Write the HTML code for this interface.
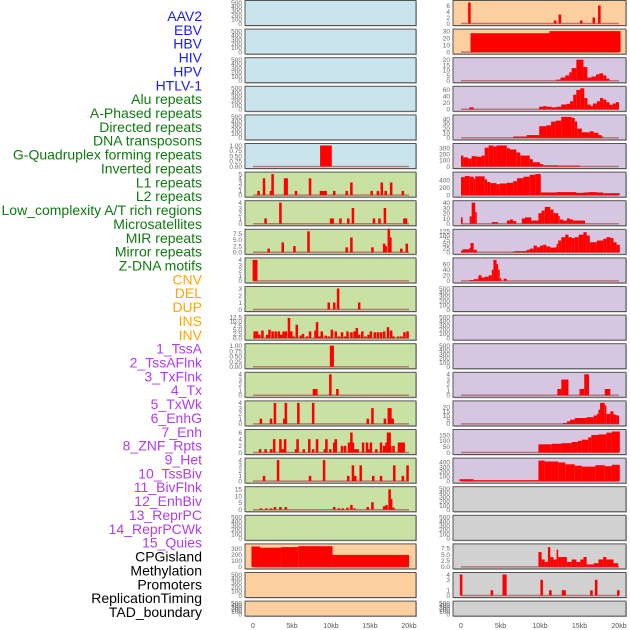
<!DOCTYPE html>
<html><head><meta charset="utf-8"><style>
body{margin:0;background:#fff;width:630px;height:630px;overflow:hidden}
svg{display:block;font-family:"Liberation Sans",sans-serif}
</style></head><body>
<svg id="chart" width="630" height="630"></svg>
<script>
// ---- data ----
const labelNames = ["AAV2","EBV","HBV","HIV","HPV","HTLV-1","Alu repeats","A-Phased repeats","Directed repeats","DNA transposons","G-Quadruplex forming repeats","Inverted repeats","L1 repeats","L2 repeats","Low_complexity A/T rich regions","Microsatellites","MIR repeats","Mirror repeats","Z-DNA motifs","CNV","DEL","DUP","INS","INV","1_TssA","2_TssAFlnk","3_TxFlnk","4_Tx","5_TxWk","6_EnhG","7_Enh","8_ZNF_Rpts","9_Het","10_TssBiv","11_BivFlnk","12_EnhBiv","13_ReprPC","14_ReprPCWk","15_Quies","CPGisland","Methylation","Promoters","ReplicationTiming","TAD_boundary"];
const labelGroups = [0,0,0,0,0,0,1,1,1,1,1,1,1,1,1,1,1,1,1,2,2,2,2,2,3,3,3,3,3,3,3,3,3,3,3,3,3,3,3,4,4,4,4,4];
const groupColors = ["#1a1aff","#0f7a0f","#ffa500","#b03cf0","#000"];
const xTickValues = [0,5,10,15,20];
const xTickLabels = ["0","5kb","10kb","15kb","20kb"];

const T500=[0,100,200,300,400,500], T4=[0,1,2,3,4];
const leftTicks=[T500,T500,T500,T500,T500,[0,0.25,0.5,0.75,1],[0,1,2,3,4,5],T4,[0,2.5,5,7.5],T4,[0,1,2,3],[0,2.5,5,7.5,10,12.5],[0,0.25,0.5,0.75,1],T4,T4,[0,2,4,6],T4,[0,5,10,15],T500,[0,100,200,300],T500,T500];
const leftTickText=[null,null,null,null,null,["0.00","0.25","0.50","0.75","1.00"],null,null,["0.0","2.5","5.0","7.5"],null,null,["0.0","2.5","5.0","7.5","10.0","12.5"],["0.00","0.25","0.50","0.75","1.00"]];
const leftMax=[500,500,500,500,500,1,5,4,8.5,4,3,12.5,1,4,4,6.3,4,15.5,500,350,500,500];
const leftColor=["b","b","b","b","b","b","g","g","g","g","g","g","g","g","g","g","g","g","g","o","o","o"];
// spikes: [kb, value]
const leftSpikes={
 6:[[0.7,1],[1.4,4],[2.3,1],[2.5,5],[4.1,4],[4.3,4],[5.5,1],[7.3,4],[8.7,1],[9.0,1],[9.3,1],[10.4,1],[12,1],[12.6,3],[15.2,1],[16,1],[16.5,3],[17,1],[17.7,3],[19.2,1]],
 7:[[1.6,1],[3.5,4],[10,1],[10.2,1],[11.2,1],[12.2,1],[12.8,3],[15.5,1],[16.2,1],[16.9,3],[19.4,1],[19.6,1]],
 8:[[2,1.5],[3.8,4],[5.3,2.5],[7.1,8.5],[12,2],[12.6,6],[15.3,2],[16.8,3.5],[17,2.5],[17.4,9.5],[17.6,6],[19,1.5],[19.7,3.5]],
 9:[[0.1,4],[0.4,4]],
 10:[[9.7,1],[10.4,1],[10.9,3],[13.6,1]],
 11:[[0.2,4],[0.5,4],[0.8,2],[1.2,4.5],[1.8,2],[2.1,5],[2.5,4],[2.9,4],[3.3,4],[3.6,2],[3.9,4],[4.2,4],[4.6,12],[4.9,4],[5.2,1],[5.6,8],[6.1,1.5],[6.4,2.5],[6.9,1],[7.3,4],[8.0,4.5],[8.2,9.5],[8.5,1],[8.8,4],[9.3,1.5],[9.7,1],[10.1,5],[10.6,4],[11.0,1],[11.4,3.5],[11.8,1],[12.1,4],[12.6,3.5],[13,4],[13.3,6],[13.6,2],[14,4],[14.4,1],[14.8,2],[15.1,4],[15.6,3.5],[16,3.5],[16.4,3.5],[16.8,4],[17.3,6.5],[17.7,4.5],[18,1],[18.6,1],[19,1],[19.4,3.5],[19.8,4]],
 12:[[10,1],[10.2,1]],
 13:[[7.8,1.2],[8.1,1.2],[9.9,4],[10.8,1.2]],
 14:[[1,1],[2.3,1],[2.8,4],[4,1],[4.2,4],[5.8,4],[7.7,4],[14.7,1],[15.3,3],[16.9,1],[17.4,3],[17.6,3],[17.9,1]],
 15:[[0.9,1],[1.6,1],[2.3,1],[2.7,4],[3.5,4],[3.8,1],[4.1,4],[5.5,1],[5.7,4],[6.5,1],[7.2,4],[7.7,1],[8.2,4],[9.2,1],[9.4,4],[9.9,1],[10.4,3],[10.6,4],[11.4,2],[11.8,2],[12.3,3],[12.6,6],[12.8,3],[13.1,1],[13.4,1],[14.1,3],[14.6,3],[14.8,1],[15.1,3],[15.8,1],[16.4,3],[16.8,2],[17.1,3],[17.3,6],[17.5,6],[17.6,2],[18,2],[18.7,3],[19,3],[19.3,3]],
 16:[[1.4,1],[3.2,4],[7.3,1],[9.1,4],[12.2,1],[12.8,3],[13.1,1],[13.8,3],[15.4,1],[16.4,1],[18.1,3],[19.2,1],[19.8,3]],
 17:[[1,1],[1.7,1],[2.3,1],[2.8,2],[3.5,2],[4.2,2],[10.4,2],[11,1],[11.5,1],[12.1,1.5],[12.6,3.5],[13,1],[14.7,2],[15.3,5.5],[16.8,2.5],[17.1,3.5],[17.5,15],[17.7,8],[18,1.5]]
};
// steps: [startKb, endKb, value]
const leftSteps={
 5:[[8.6,10.1,1]],
 19:[[-0.2,0.9,340],[0.9,3.6,320],[3.6,5.8,330],[5.8,10.2,345],[10.2,20,200]]
};

const rightTicks=[[0,2,4,6],[0,10,20,30],[0,5,10,15,20],[0,20,40,60],[0,10,20,30,40],[0,100,200,300],[0,200,400],[0,10,20,30,40],[0,25,50,75,100,125],[0,20,40,60],T500,T500,T500,T4,[0,5,10,15,20],[0,50,100,150],[0,100,200,300,400],T500,T500,[0,2.5,5,7.5],[0,1,3,4],T500];
const rightTickText={19:["0.0","2.5","5.0","7.5"]};
const rightMax=[7,30,20,65,45,345,560,40,125,75,500,500,500,4,25,180,450,500,500,8.5,4,500];
const rightColor=["o","o","p","p","p","p","p","p","p","p","p","p","p","p","p","p","p","g2","g2","g2","g2","g2"];
const rightSpikes={
 0:[[1.05,7],[11.9,1],[12.5,3],[15.2,1],[16.8,2],[17.5,6]],
 20:[[0,4],[3.9,1],[5.4,4],[5.6,4],[10.2,3],[11.3,1],[12.9,1],[13.1,1],[16.5,1],[17.1,3],[19.9,1]]
};
const rightSteps={
 1:[[1.2,11.2,27],[11.2,20.2,30]],
 2:[[12,12.6,1],[12.6,13.2,3],[13.2,13.7,5],[13.7,14,8],[14,14.6,12],[14.6,15.5,20],[15.5,16,13],[16,16.5,3],[16.5,17.1,4],[17.1,17.5,6],[17.5,18,7],[18,18.4,5],[18.4,18.8,2]],
 3:[[1.06,1.6,6],[9.9,10.4,8],[10.4,10.8,10],[10.8,11.5,8],[11.5,12.1,6],[12.1,12.7,8],[12.7,13.4,15],[13.4,13.8,17],[13.8,14.2,25],[14.2,14.6,45],[14.6,15.1,60],[15.1,15.6,65],[15.6,16,35],[16,16.4,15],[16.4,16.7,10],[16.7,17.2,18],[17.2,17.6,25],[17.6,18,35],[18,18.4,30],[18.4,18.8,22],[18.8,19.2,14],[19.2,19.6,18],[19.6,20,22]],
 4:[[6.6,8.3,3],[8.3,9.9,6],[9.9,10.8,25],[10.8,11.4,27],[11.4,12,35],[12,12.7,37],[12.7,14,45],[14,14.4,43],[14.4,14.7,35],[14.7,15.3,20],[15.3,16.3,12],[16.3,16.8,14],[16.8,17.4,11],[17.4,17.8,6],[17.8,18,3]],
 5:[[0,0.3,180],[0.3,0.9,150],[0.9,1.35,130],[1.35,2,170],[2,2.6,160],[2.6,3,180],[3,3.5,310],[3.5,4.1,345],[4.1,4.5,330],[4.5,5.8,345],[5.8,6.2,300],[6.2,7,280],[7,7.5,230],[7.5,8.7,180],[8.7,9.1,120],[9.1,10,70],[10,10.4,40],[10.4,12.3,20],[12.3,15.1,15]],
 6:[[0,0.5,480],[0.5,1.1,510],[1.1,1.6,490],[1.6,1.8,440],[1.8,3,500],[3,3.3,420],[3.3,3.7,350],[3.7,4.5,320],[4.5,4.9,290],[4.9,5.8,310],[5.8,6.6,330],[6.6,7.1,370],[7.1,7.9,450],[7.9,8.7,490],[8.7,9.4,540],[9.4,10.1,560],[10.1,12.1,70],[12.1,14.6,80],[14.6,15.5,60],[15.5,16.1,70],[16.1,17.2,80],[17.2,18,70],[18,20.1,50]],
 7:[[0,0.2,12],[1.1,1.35,14],[1.35,1.8,40],[1.8,2,22],[3.9,4.7,3],[5.8,6.2,6],[6.2,6.6,8],[6.6,7,5],[7.7,8.1,10],[8.1,8.9,12],[8.9,9.8,6],[9.8,10.2,20],[10.2,10.6,25],[10.6,11.3,32],[11.3,11.7,27],[11.7,12.3,20],[12.3,12.5,15],[12.5,12.95,8],[12.95,13.4,6],[13.4,13.8,10],[13.8,14.2,8],[14.2,15.7,6]],
 8:[[0,0.2,10],[0.2,1.05,18],[1.05,1.2,25],[1.2,1.6,55],[1.6,2,15],[6.4,6.8,3],[6.8,8.3,7],[8.3,8.7,15],[8.7,9.2,22],[9.2,9.6,40],[9.6,10,30],[10,10.4,40],[10.4,10.8,45],[10.8,11.3,35],[11.3,11.9,28],[11.9,12.1,30],[12.1,12.3,50],[12.3,12.7,70],[12.7,13.2,90],[13.2,13.6,105],[13.6,14,90],[14,14.4,85],[14.4,14.9,90],[14.9,15.5,105],[15.5,15.9,120],[15.9,16.3,100],[16.3,17.2,60],[17.2,18,70],[18,18.4,80],[18.4,18.9,90],[18.9,19.3,85],[19.3,19.7,60],[19.7,20.1,45]],
 9:[[1.1,1.6,3],[1.6,2.2,6],[2.2,2.6,20],[2.6,3,12],[3,3.5,15],[3.5,3.9,20],[3.9,4.1,40],[4.1,4.5,75],[4.5,4.7,60],[4.7,4.9,40],[4.9,5.1,10],[5.4,5.8,8]],
 13:[[12.2,12.7,1.2],[12.7,13.6,3],[15,15.6,1.2],[15.6,16.2,4],[18.2,18.9,1.2]],
 14:[[12.9,13.4,1],[13.4,13.8,3],[13.8,14.4,5],[14.4,15.9,7],[15.9,16.8,8],[16.8,17.2,10],[17.2,17.4,12],[17.4,17.6,17],[17.6,18.2,25],[18.2,18.4,22],[18.4,18.9,12],[18.9,19.3,15],[19.3,19.7,11],[19.7,20,10]],
 15:[[9.8,11.5,70],[11.5,12.7,75],[12.7,14,80],[14,14.8,90],[14.8,15.3,100],[15.3,16.1,110],[16.1,16.5,130],[16.5,17.4,150],[17.4,18.4,155],[18.4,19.1,170],[19.1,20.1,180]],
 16:[[-0.2,1.6,40],[1.6,9.8,20],[9.8,10.6,440],[10.6,12.3,420],[12.3,13.2,400],[13.2,14.4,360],[14.4,15.3,330],[15.3,17,310],[17,18.2,340],[18.2,19.1,320],[19.1,20.1,350]],
 19:[[9.8,10.2,6],[10.2,10.6,3],[10.6,11,2],[11,11.3,8],[11.3,11.7,4],[11.7,12.1,3],[12.1,12.3,7],[12.3,12.7,4],[12.7,13.4,4],[13.4,14,2],[14,14.6,3],[14.6,15.1,2],[15.1,15.5,3],[15.5,15.9,4],[15.9,16.3,1],[16.3,16.8,1],[16.8,17.4,1.5],[17.4,18,3],[18,18.4,4],[18.4,19.3,3],[19.3,19.9,1.5]]
};

// ---- drawing ----
const NS="http://www.w3.org/2000/svg";
const svg=document.getElementById("chart");
const fills={b:"#c9e4ec",g:"#c9e2a4",o:"#fdcf9f",p:"#d7c6e2",g2:"#d1d1d1"};
function mk(tag,attrs,parent){const e=document.createElementNS(NS,tag);for(const k in attrs)e.setAttribute(k,attrs[k]);(parent||svg).appendChild(e);return e;}

labelNames.forEach((name,i)=>{
  const t=mk("text",{x:202,y:21+i*13.86,"text-anchor":"end","font-size":"14",fill:groupColors[labelGroups[i]]});
  t.textContent=name;
  
  
});

function rowTop(i){return 0.5+i*28.6;}
function rowH(i){return i===21?15:25;}

function drawColumn(side,ticks,tickText,maxes,colors,spikes,steps,px0,px1,x0,x20,tickX){
  const g=mk("g",{});
  
  
  const xs=kb=>x0+kb*(x20-x0)/20;
  for(let i=0;i<22;i++){
    const top=rowTop(i),h=rowH(i),bot=top+h;
    const pg=mk("g",{},g);
    
    
    mk("rect",{x:px0+1,y:top+1,width:px1-px0,height:h,fill:"#bbb"},pg);
    mk("rect",{x:px0,y:top,width:px1-px0,height:h,fill:fills[colors[i]],stroke:"#555","stroke-width":1},pg);
    const max=maxes[i];
    const ys=v=>bot-2-v/max*(h-4);
    // ticks
    const tv=ticks[i],tt=(tickText&&tickText[i])||null;
    tv.forEach((v,k)=>{
      const t=mk("text",{x:tickX,y:ys(v)+2.3,"text-anchor":"end","font-size":"6.5",fill:"#666"},pg);
      t.textContent=tt?tt[k]:String(v);
      
      
    });
    const empty=!(spikes[i]||steps[i]);
    if(!empty){
      mk("line",{x1:xs(0),x2:xs(20),y1:ys(0),y2:ys(0),stroke:"#b06060","stroke-width":1.5,opacity:0.8},pg);
    }
    (steps[i]||[]).forEach(s=>{
      const r=mk("rect",{x:xs(s[0]),y:ys(s[2]),width:Math.max(0.8,xs(s[1])-xs(s[0])),height:ys(0)-ys(s[2]),fill:"#ff0000"},pg);
      
      
    });
    (spikes[i]||[]).forEach(s=>{
      const w=0.3;
      const r=mk("rect",{x:xs(s[0]-w/2),y:ys(s[1]),width:xs(w)-xs(0)+0.2,height:ys(0)-ys(s[1]),fill:"#ff0000"},pg);
      
      
    });
  }
  xTickValues.forEach((v,k)=>{
    const t=mk("text",{x:xs(v),y:628,"text-anchor":"middle","font-size":"7",fill:"#555"},g);
    t.textContent=xTickLabels[k];
    
    
  });
}
drawColumn("left",leftTicks,leftTickText,leftMax,leftColor,leftSpikes,leftSteps,245,416,253,409,242);
drawColumn("right",rightTicks,rightTickText,rightMax,rightColor,rightSpikes,rightSteps,453,626,461,619,450);
</script>
</body></html>
